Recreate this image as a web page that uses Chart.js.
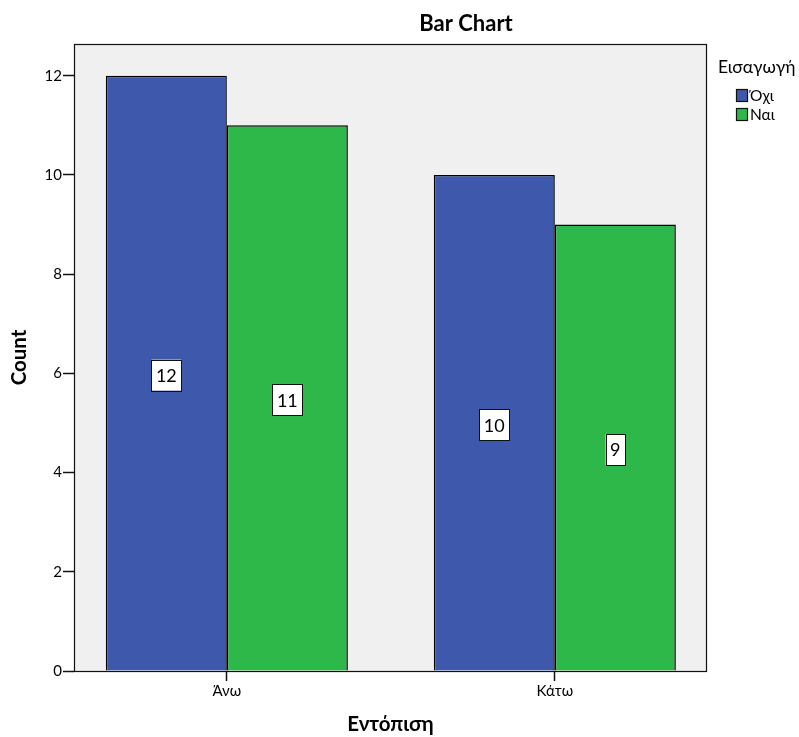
<!DOCTYPE html>
<html>
<head>
<meta charset="utf-8">
<script src="https://cdn.jsdelivr.net/npm/chart.js@4/dist/chart.umd.min.js"></script>
<style>
  body { margin: 0; background: #fff; }
</style>
</head>
<body>
<canvas id="grafico" width="799" height="737"></canvas>
<script>
// dati
var categorie = ['Άνω', 'Κάτω'];
var valoriOxi = [12, 10];
var valoriNai = [11, 9];
var nomiSerie = ['Όχι', 'Ναι'];
var coloriSerie = ['#3e58ac', '#2fb84a'];
var tickY = [0, 2, 4, 6, 8, 10, 12];

var FONT = 'Lato, Calibri, "Open Sans", sans-serif';

function punti(valori) {
    return valori.map(function(v, i) { return { x: i, y: v }; });
}

// sfondo grigio e cornice dell'area del grafico
var sfondo = {
    id: 'sfondo',
    beforeDatasetsDraw: function(chart) {
        var a = chart.chartArea, ctx = chart.ctx;
        ctx.save();
        ctx.fillStyle = '#f0f0f0';
        ctx.fillRect(a.left, a.top, a.right - a.left, a.bottom - a.top);
        ctx.strokeStyle = '#111';
        ctx.lineWidth = 1.2;
        ctx.strokeRect(a.left + 0.5, a.top + 0.5, a.right - a.left - 1, a.bottom - a.top);
        ctx.restore();
    }
};

// etichette con i valori dentro le barre
var etichette = {
    id: 'etichette',
    afterDatasetsDraw: function(chart) {
        var ctx = chart.ctx;
        ctx.save();
        ctx.font = '18px ' + FONT;
        ctx.textAlign = 'center';
        ctx.textBaseline = 'middle';
        chart.data.datasets.forEach(function(ds, d) {
            chart.getDatasetMeta(d).data.forEach(function(bar, i) {
                var testo = String(ds.data[i].y);
                var w = ctx.measureText(testo).width + 9;
                var h = 31;
                var cx = bar.x;
                var cy = (bar.y + bar.base) / 2 + 2;
                ctx.fillStyle = '#fff';
                ctx.fillRect(cx - w / 2, cy - h / 2, w, h);
                ctx.strokeStyle = '#111';
                ctx.lineWidth = 1;
                ctx.strokeRect(Math.round(cx - w / 2) + 0.5, Math.round(cy - h / 2) + 0.5, Math.round(w), h);
                ctx.fillStyle = '#000';
                ctx.fillText(testo, cx, cy + 1);
            });
        });
        ctx.restore();
    }
};

// titolo e legenda disegnati a mano
var titoloLegenda = {
    id: 'titoloLegenda',
    afterDraw: function(chart) {
        var ctx = chart.ctx, a = chart.chartArea;
        ctx.save();
        ctx.fillStyle = '#000';
        ctx.font = 'bold 22px ' + FONT;
        ctx.textAlign = 'center';
        ctx.textBaseline = 'middle';
        ctx.fillText('Bar Chart', 466, 24);

        var x0 = a.right + 11;
        ctx.textAlign = 'left';
        ctx.font = '17.5px ' + FONT;
        ctx.fillText('Εισαγωγή', x0, 67);
        ctx.font = '15.5px ' + FONT;
        chart.data.datasets.forEach(function(ds, d) {
            var y = 89 + d * 19;
            ctx.fillStyle = ds.backgroundColor;
            ctx.fillRect(x0 + 18, y, 11, 12);
            ctx.strokeStyle = '#111';
            ctx.lineWidth = 1.2;
            ctx.strokeRect(x0 + 18.5, y + 0.5, 11, 12);
            ctx.fillStyle = '#000';
            ctx.fillText(ds.label, x0 + 32, y + 7);
        });
        ctx.restore();
    }
};

new Chart(document.getElementById('grafico'), {
    type: 'bar',
    data: {
        datasets: [{
            label: nomiSerie[0],
            data: punti(valoriOxi),
            backgroundColor: coloriSerie[0],
            borderColor: '#000',
            borderWidth: 1.5
        }, {
            label: nomiSerie[1],
            data: punti(valoriNai),
            backgroundColor: coloriSerie[1],
            borderColor: '#000',
            borderWidth: 1.5
        }]
    },
    plugins: [sfondo, etichette, titoloLegenda],
    options: {
        responsive: false,
        animation: false,
        categoryPercentage: 0.738,
        barPercentage: 1,
        layout: { padding: { top: 44, right: 92, left: 0, bottom: 0 } },
        plugins: {
            legend: { display: false },
            tooltip: { enabled: false }
        },
        scales: {
            x: {
                type: 'linear',
                min: -0.466,
                max: 1.464,
                offset: false,
                afterBuildTicks: function(scale) {
                    scale.ticks = categorie.map(function(c, i) { return { value: i }; });
                },
                afterFit: function(scale) { scale.height = 66; },
                ticks: {
                    callback: function(v) { return categorie[v]; },
                    color: '#000',
                    font: { family: FONT, size: 15 },
                    padding: 1,
                    maxRotation: 0
                },
                grid: { drawOnChartArea: false, offset: false, tickLength: 10, color: '#111', tickWidth: 1.5 },
                border: { display: false },
                title: {
                    display: true,
                    text: 'Εντόπιση',
                    color: '#000',
                    font: { family: FONT, size: 20.5, weight: 'bold' },
                    padding: { top: 0, bottom: 0 }
                }
            },
            y: {
                min: 0,
                max: 12.64,
                afterBuildTicks: function(scale) {
                    scale.ticks = tickY.map(function(v) { return { value: v }; });
                },
                afterFit: function(scale) { scale.width = 74; },
                ticks: {
                    color: '#000',
                    font: { family: FONT, size: 15 },
                    padding: 1
                },
                grid: { drawOnChartArea: false, tickLength: 11, color: '#111', tickWidth: 1.5 },
                border: { display: false },
                title: {
                    display: true,
                    text: 'Count',
                    color: '#000',
                    font: { family: FONT, size: 20.5, weight: 'bold' },
                    padding: { top: 7, bottom: 0 }
                }
            }
        }
    }
});
</script>
</body>
</html>
